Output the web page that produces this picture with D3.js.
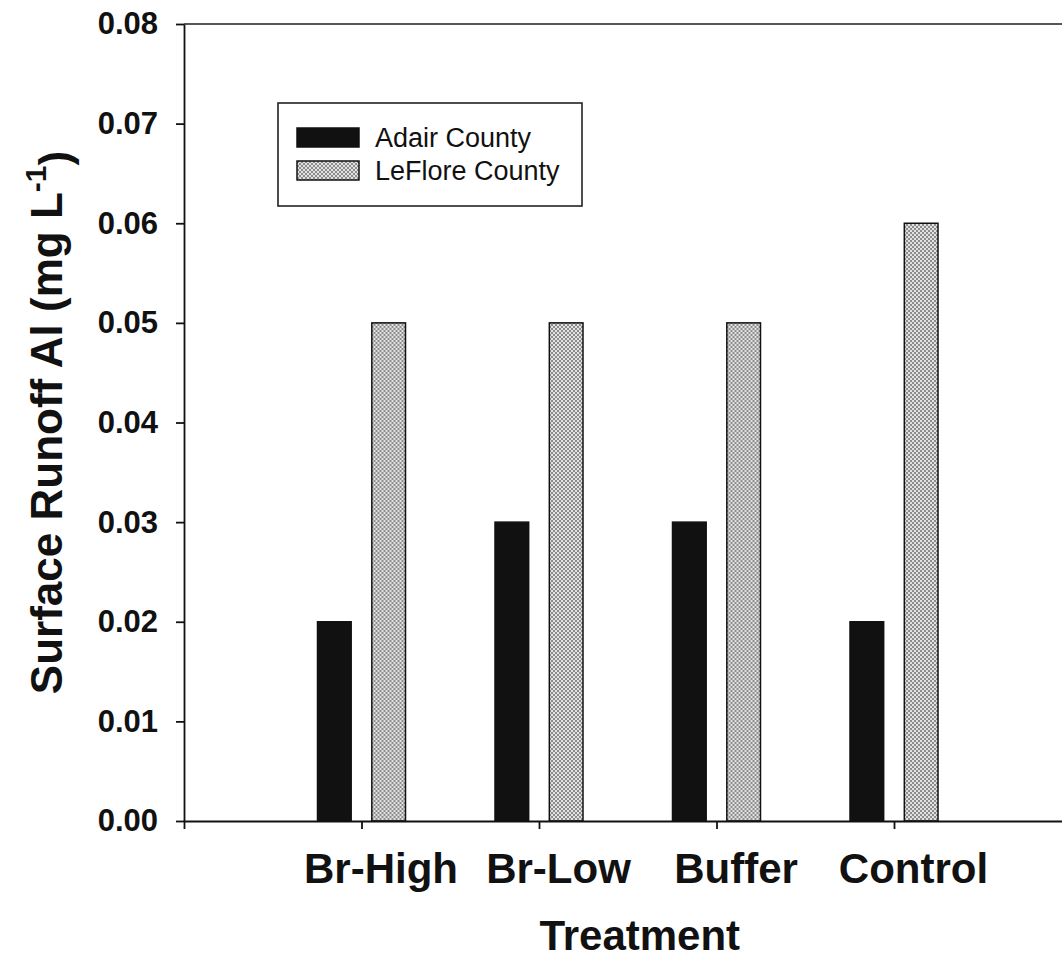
<!DOCTYPE html>
<html>
<head>
<meta charset="utf-8">
<script src="https://cdn.jsdelivr.net/npm/d3@7"></script>
<style>
  body { margin: 0; background: #fff; }
  svg { display: block; font-family: "Liberation Sans", Arial, sans-serif; }
</style>
</head>
<body>
<div class="graph-card"></div>
<script>
// data
var treatments = ["Br-High", "Br-Low", "Buffer", "Control"];
var seriesNames = ["Adair County", "LeFlore County"];
var adair = [0.02, 0.03, 0.03, 0.02];
var leflore = [0.05, 0.05, 0.05, 0.06];
var yTicks = [0, 0.01, 0.02, 0.03, 0.04, 0.05, 0.06, 0.07, 0.08];

var W = 1062, H = 960;
var margin = {top: 24, left: 184, bottom: 139};
var plotRight = 1071.5;
var plotBottom = H - margin.bottom;

var svg = d3.select(".graph-card").append("svg")
    .attr("width", W)
    .attr("height", H);

// patterned fill for LeFlore bars
var pat = svg.append("defs").append("pattern")
    .attr("id", "stipple")
    .attr("patternUnits", "userSpaceOnUse")
    .attr("width", 4).attr("height", 4);
pat.append("rect").attr("width", 4).attr("height", 4).attr("fill", "#e2e2e2");
pat.append("rect").attr("width", 2).attr("height", 2).attr("fill", "#8c8c8c");
pat.append("rect").attr("x", 2).attr("y", 2).attr("width", 2).attr("height", 2).attr("fill", "#8c8c8c");

var fills = ["#111", "url(#stipple)"];

// scales
var x = d3.scalePoint()
    .domain(treatments)
    .range([margin.left, plotRight])
    .padding(1);

var xInner = d3.scaleBand()
    .domain(seriesNames)
    .range([-44, 44])
    .paddingInner(0.38);

var y = d3.scaleLinear()
    .domain([0, 0.08])
    .range([plotBottom, margin.top]);

var rows = treatments.map(function(t, i) {
    return {t: t, vals: [adair[i], leflore[i]]};
});

// top frame line
svg.append("line")
    .attr("x1", margin.left).attr("x2", plotRight)
    .attr("y1", y(0.08)).attr("y2", y(0.08))
    .attr("stroke", "#555").attr("stroke-width", 1.8);

// bars
var groups = svg.selectAll(".grp")
    .data(rows)
    .enter().append("g")
    .attr("class", "grp")
    .attr("transform", function(d) { return "translate(" + x(d.t) + ",0)"; });

groups.selectAll("rect")
    .data(function(d) { return d.vals.map(function(v, j) { return {v: v, s: seriesNames[j], j: j}; }); })
    .enter().append("rect")
    .attr("x", function(d) { return xInner(d.s); })
    .attr("width", xInner.bandwidth())
    .attr("y", function(d) { return y(d.v); })
    .attr("height", function(d) { return y(0) - y(d.v); })
    .attr("fill", function(d) { return fills[d.j]; })
    .attr("stroke", "#111")
    .attr("stroke-width", 1.5);

// Y axis
var yAxis = svg.append("g")
    .attr("transform", "translate(" + margin.left + ",0)")
    .call(d3.axisLeft(y).tickValues(yTicks).tickFormat(d3.format(".2f"))
        .tickSize(8).tickSizeOuter(0).tickPadding(18));
yAxis.selectAll("path, line").attr("stroke", "#111").attr("stroke-width", 1.8);
yAxis.selectAll("text")
    .attr("fill", "#111")
    .style("font-size", "31px")
    .style("font-weight", "bold")
    .style("font-family", "'Liberation Sans', Arial, sans-serif");

// X axis
var xAxis = svg.append("g")
    .attr("transform", "translate(0," + plotBottom + ")")
    .call(d3.axisBottom(x).tickSize(8).tickSizeOuter(8));
xAxis.selectAll("path, line").attr("stroke", "#111").attr("stroke-width", 1.8);
xAxis.selectAll("text")
    .attr("fill", "#111")
    .attr("y", 62)
    .attr("dy", 0)
    .attr("dx", 19)
    .style("font-size", "42px")
    .style("font-weight", "bold")
    .style("font-family", "'Liberation Sans', Arial, sans-serif");

// axis titles
svg.append("text")
    .attr("x", (margin.left + plotRight) / 2 + 12)
    .attr("y", 950)
    .attr("text-anchor", "middle")
    .attr("fill", "#111")
    .style("font-size", "42px")
    .style("font-weight", "bold")
    .text("Treatment");

var yTitle = svg.append("text")
    .attr("transform", "translate(62," + ((margin.top + plotBottom) / 2) + ") rotate(-90)")
    .attr("text-anchor", "middle")
    .attr("fill", "#111")
    .style("font-size", "44px")
    .style("font-weight", "bold");
yTitle.append("tspan").text("Surface Runoff Al (mg L");
yTitle.append("tspan").attr("dy", "-0.55em").style("font-size", "30px").text("-1");
yTitle.append("tspan").attr("dy", "0.55em").text(")");

// legend
var legend = svg.append("g").attr("transform", "translate(278,103)");
legend.append("rect")
    .attr("width", 304).attr("height", 103)
    .attr("fill", "#fff").attr("stroke", "#222").attr("stroke-width", 1.6);

var li = legend.selectAll(".li")
    .data(seriesNames)
    .enter().append("g")
    .attr("class", "li")
    .attr("transform", function(d, i) { return "translate(19," + (25 + i * 33) + ")"; });
li.append("rect")
    .attr("width", 62).attr("height", 19)
    .attr("fill", function(d, i) { return fills[i]; })
    .attr("stroke", "#111").attr("stroke-width", 1.5);
li.append("text")
    .attr("x", 78).attr("y", 19)
    .attr("fill", "#111")
    .style("font-size", "27px")
    .text(function(d) { return d; });
</script>
</body>
</html>
